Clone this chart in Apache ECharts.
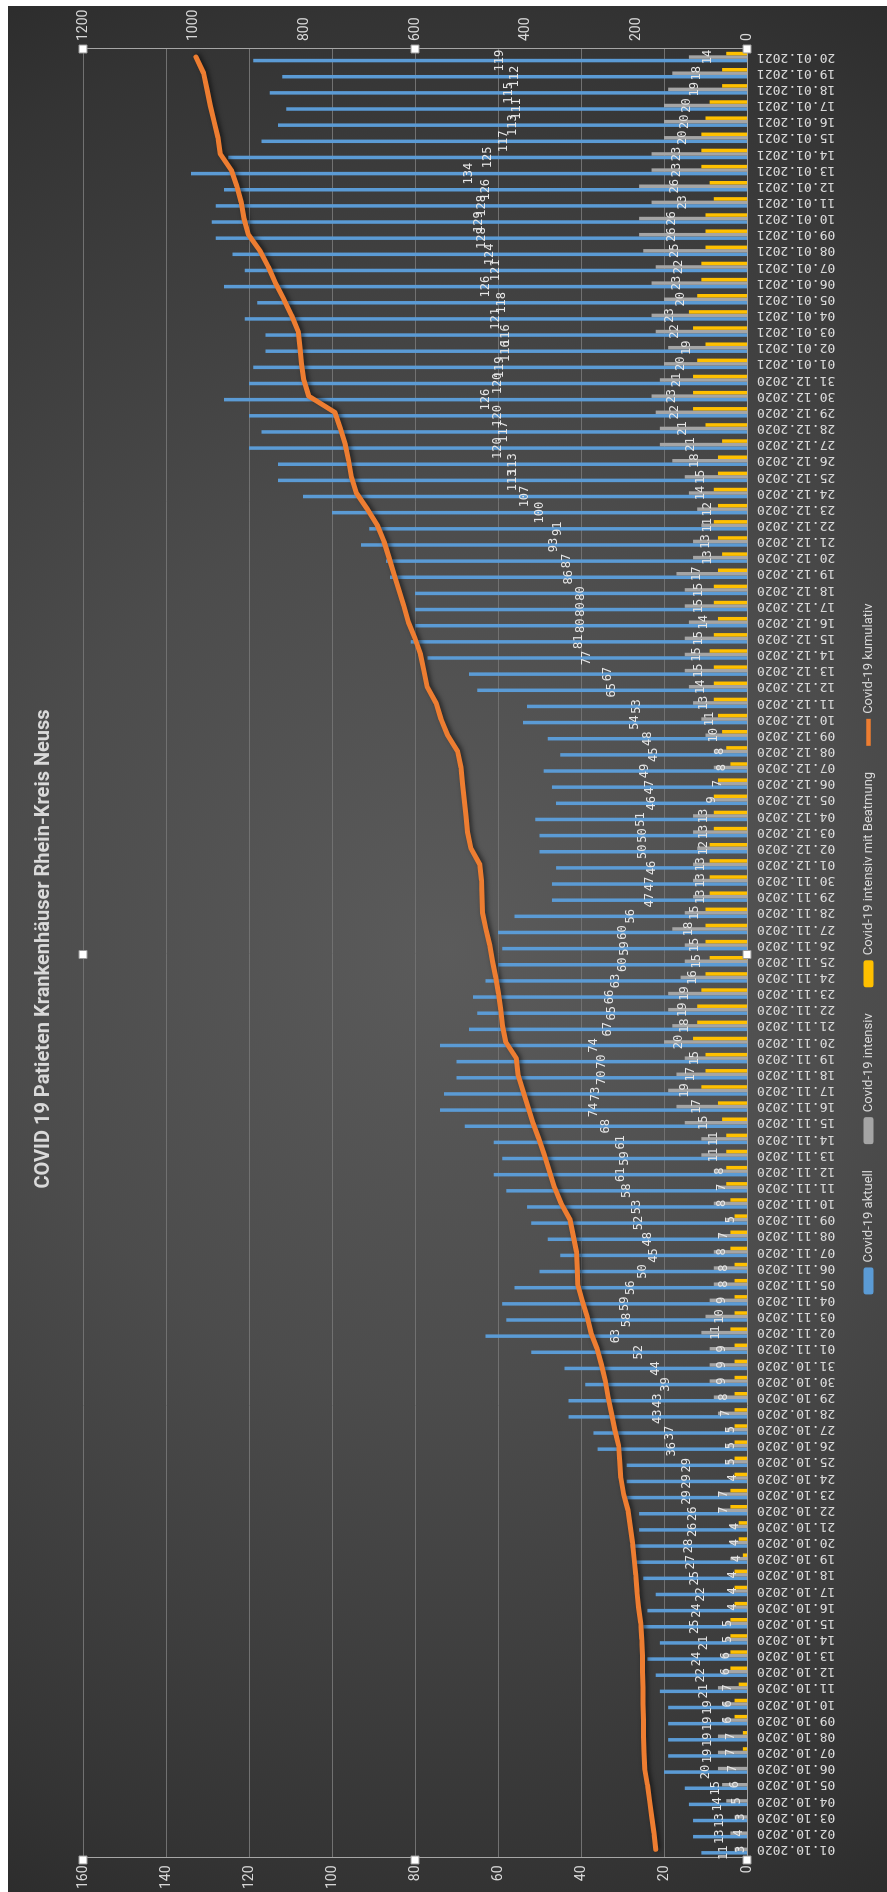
<!DOCTYPE html>
<html lang="de">
<head>
<meta charset="utf-8">
<title>COVID 19 Patieten Krankenhäuser Rhein-Kreis Neuss</title>
<script src="https://cdn.jsdelivr.net/npm/echarts@6/dist/echarts.min.js"></script>
<style>
  html, body { margin: 0; padding: 0; background: #ffffff; overflow: hidden; }
  body { width: 887px; height: 1892px; position: relative; }
  /* the reference is a landscape Excel chart turned on its side */
  #chart {
    position: absolute;
    left: 0;
    top: 0;
    width: 1886px;
    height: 879px;
    transform-origin: 0 0;
    transform: translate(8px, 1892px) rotate(-90deg);
  }
</style>
</head>
<body>
<div id="chart"></div>
<script>
const dates = [
  '01.10.2020', '02.10.2020', '03.10.2020', '04.10.2020', '05.10.2020', '06.10.2020', '07.10.2020', '08.10.2020',
  '09.10.2020', '10.10.2020', '11.10.2020', '12.10.2020', '13.10.2020', '14.10.2020', '15.10.2020', '16.10.2020',
  '17.10.2020', '18.10.2020', '19.10.2020', '20.10.2020', '21.10.2020', '22.10.2020', '23.10.2020', '24.10.2020',
  '25.10.2020', '26.10.2020', '27.10.2020', '28.10.2020', '29.10.2020', '30.10.2020', '31.10.2020',
  '01.11.2020', '02.11.2020', '03.11.2020', '04.11.2020', '05.11.2020', '06.11.2020', '07.11.2020', '08.11.2020',
  '09.11.2020', '10.11.2020', '11.11.2020', '12.11.2020', '13.11.2020', '14.11.2020', '15.11.2020', '16.11.2020',
  '17.11.2020', '18.11.2020', '19.11.2020', '20.11.2020', '21.11.2020', '22.11.2020', '23.11.2020', '24.11.2020',
  '25.11.2020', '26.11.2020', '27.11.2020', '28.11.2020', '29.11.2020', '30.11.2020',
  '01.12.2020', '02.12.2020', '03.12.2020', '04.12.2020', '05.12.2020', '06.12.2020', '07.12.2020', '08.12.2020',
  '09.12.2020', '10.12.2020', '11.12.2020', '12.12.2020', '13.12.2020', '14.12.2020', '15.12.2020', '16.12.2020',
  '17.12.2020', '18.12.2020', '19.12.2020', '20.12.2020', '21.12.2020', '22.12.2020', '23.12.2020', '24.12.2020',
  '25.12.2020', '26.12.2020', '27.12.2020', '28.12.2020', '29.12.2020', '30.12.2020', '31.12.2020',
  '01.01.2021', '02.01.2021', '03.01.2021', '04.01.2021', '05.01.2021', '06.01.2021', '07.01.2021', '08.01.2021',
  '09.01.2021', '10.01.2021', '11.01.2021', '12.01.2021', '13.01.2021', '14.01.2021', '15.01.2021', '16.01.2021',
  '17.01.2021', '18.01.2021', '19.01.2021', '20.01.2021',
]

const aktuell = [
  11, 13, 13, 14, 15, 20, 19, 19, 19, 19, 21, 22, 24, 21, 25, 24, 22, 25, 27, 28, 26, 26, 29, 29, 29, 36, 37, 43, 43, 39, 44,
  52, 63, 58, 59, 56, 50, 45, 48, 52, 53, 58, 61, 59, 61, 68, 74, 73, 70, 70, 74, 67, 65, 66, 63, 60, 59, 60, 56, 47, 47,
  46, 50, 50, 51, 46, 47, 49, 45, 48, 54, 53, 65, 67, 77, 81, 80, 80, 80, 86, 87, 93, 91, 100, 107, 113, 113, 120, 117, 120, 126, 120,
  119, 116, 116, 121, 118, 126, 121, 124, 128, 129, 128, 126, 134, 125, 117, 113, 111, 115, 112, 119,
]

const intensiv = [
  3, 4, 3, 5, 6, 7, 7, 7, 6, 6, 7, 6, 6, 5, 5, 4, 4, 4, 4, 4, 4, 7, 7, 4, 5, 5, 5, 7, 8, 9, 9,
  9, 11, 10, 9, 8, 8, 8, 7, 5, 8, 7, 8, 11, 11, 15, 17, 19, 17, 15, 20, 18, 19, 19, 16, 15, 15, 18, 15, 13, 13,
  13, 12, 13, 13, 9, 7, 8, 8, 10, 11, 13, 14, 15, 15, 15, 14, 15, 15, 17, 13, 13, 11, 12, 14, 15, 18, 21, 21, 22, 23, 21,
  20, 19, 22, 23, 20, 23, 22, 25, 26, 26, 23, 26, 23, 23, 20, 20, 20, 19, 18, 14,
]

const beatmung = [
  0, 0, 0, 0, 0, 0, 1, 1, 3, 3, 2, 4, 4, 4, 4, 3, 3, 3, 1, 2, 2, 4, 4, 3, 3, 3, 3, 3, 3, 3, 3,
  3, 4, 3, 3, 3, 3, 4, 4, 3, 4, 5, 5, 5, 5, 6, 7, 11, 10, 10, 13, 12, 12, 11, 10, 9, 10, 10, 10, 9, 9,
  9, 9, 8, 8, 8, 7, 4, 5, 6, 7, 8, 8, 8, 9, 8, 7, 8, 8, 7, 6, 7, 8, 7, 8, 7, 7, 6, 10, 13, 13, 13,
  12, 10, 13, 14, 12, 11, 11, 10, 10, 10, 8, 9, 11, 11, 11, 10, 9, 6, 6, 5,
]

const kumulativ = [
  165, 168, 172, 176, 180, 185, 186, 187, 187, 188, 188, 189, 189, 190, 192, 196, 199, 201, 204, 207, 211, 215, 223, 228, 230, 232, 239, 245, 251, 256, 263,
  271, 282, 289, 298, 306, 307, 308, 314, 320, 336, 348, 357, 366, 376, 387, 396, 405, 414, 417, 436, 442, 445, 449, 454, 460, 465, 472, 478, 479, 480,
  483, 499, 505, 508, 511, 514, 517, 523, 541, 553, 562, 578, 584, 590, 600, 612, 620, 629, 638, 647, 656, 668, 686, 706, 715, 720, 726, 735, 745, 792, 801,
  805, 808, 811, 823, 837, 852, 865, 880, 901, 909, 914, 922, 932, 952, 956, 963, 970, 976, 982, 996,
]

const seriesNames = ['Covid-19 aktuell', 'Covid-19 intensiv', 'Covid-19 intensiv mit Beatmung', 'Covid-19 kumulativ']

const narrow = "'Liberation Sans Narrow', 'Roboto', sans-serif"
const mono = "'DejaVu Sans Mono', monospace"
const textColor = '#d9d9d9'

const chartDom = document.getElementById('chart')
const chart = echarts.init(chartDom, null, { renderer: 'canvas' })

const width = chartDom.clientWidth
const height = chartDom.clientHeight
const grid = { left: 32, right: 43, top: 75, bottom: 140 }
const pxPerPatient = (height - grid.top - grid.bottom) / 160

// Excel puts the intensiv label in the middle of the part above the Beatmung bar
const intensivData = intensiv.map((value, i) => ({
  value,
  label: { offset: [0, -(beatmung[i] * pxPerPatient) / 2] },
}))

// white selection handles round the plot area, as in the screenshot
const x0 = grid.left
const x1 = width - grid.right
const y0 = grid.top
const y1 = height - grid.bottom
const handles = [
  [x0, y0], [(x0 + x1) / 2, y0], [x1, y0],
  [x0, (y0 + y1) / 2], [x1, (y0 + y1) / 2],
  [x0, y1], [(x0 + x1) / 2, y1], [x1, y1],
].map(([x, y]) => ({
  type: 'rect',
  shape: { x: x - 4, y: y - 4, width: 8, height: 8 },
  style: { fill: '#ffffff', stroke: '#9a9a9a', lineWidth: 1 },
  z: 100,
}))

chart.setOption({
  animation: false,
  backgroundColor: new echarts.graphic.RadialGradient(0.5, 0.5, 1.2, [
    { offset: 0, color: '#5b5b5b' },
    { offset: 0.42, color: '#4c4c4c' },
    { offset: 0.88, color: '#343434' },
    { offset: 1, color: '#2c2c2c' },
  ]),
  title: {
    text: 'COVID 19 Patieten Krankenhäuser Rhein-Kreis Neuss',
    left: 'center',
    top: 21,
    textStyle: { color: textColor, fontFamily: narrow, fontSize: 20, fontWeight: 'bold' },
  },
  legend: {
    data: [
      seriesNames[0],
      seriesNames[1],
      seriesNames[2],
      { name: seriesNames[3], icon: 'path://M0,0h30v5h-30z' },
    ],
    left: 'center',
    top: 849,
    itemWidth: 27,
    itemHeight: 10,
    itemGap: 26,
    textStyle: { color: textColor, fontFamily: narrow, fontSize: 13 },
  },
  grid: { ...grid, containLabel: false },
  xAxis: {
    type: 'category',
    data: dates,
    axisLine: { lineStyle: { color: '#a6a6a6' } },
    axisTick: { show: false },
    axisLabel: {
      rotate: 90,
      interval: 0,
      margin: 10,
      color: textColor,
      fontFamily: mono,
      fontSize: 13,
    },
  },
  yAxis: [
    {
      type: 'value',
      min: 0,
      max: 160,
      interval: 20,
      axisLine: { show: true, lineStyle: { color: '#a6a6a6' } },
      axisTick: { show: false },
      splitLine: { lineStyle: { color: '#717171' } },
      axisLabel: { color: textColor, fontFamily: narrow, fontSize: 14 },
    },
    {
      type: 'value',
      min: 0,
      max: 1200,
      interval: 200,
      axisLine: { show: true, lineStyle: { color: '#a6a6a6' } },
      axisTick: { show: false },
      splitLine: { show: false },
      axisLabel: {
        color: textColor,
        fontFamily: narrow,
        fontSize: 14,
        formatter: (value) => String(value),
      },
    },
  ],
  graphic: handles,
  series: [
    {
      name: seriesNames[0],
      type: 'bar',
      data: aktuell,
      barWidth: 3.5,
      barGap: '0%',
      itemStyle: { color: '#5b9bd5' },
      label: {
        show: true,
        position: 'inside',
        color: '#e6e6e6',
        fontFamily: mono,
        fontSize: 12,
      },
    },
    {
      name: seriesNames[1],
      type: 'bar',
      data: intensivData,
      barWidth: 3.5,
      barGap: '0%',
      itemStyle: { color: '#a5a5a5' },
      label: {
        show: true,
        position: 'inside',
        color: '#e6e6e6',
        fontFamily: mono,
        fontSize: 12,
      },
    },
    {
      name: seriesNames[2],
      type: 'bar',
      data: beatmung,
      barWidth: 3.5,
      barGap: '0%',
      itemStyle: { color: '#ffc000' },
    },
    {
      name: seriesNames[3],
      type: 'line',
      yAxisIndex: 1,
      data: kumulativ,
      symbol: 'none',
      z: 5,
      lineStyle: {
        color: '#ed7d31',
        width: 5,
        cap: 'round',
        join: 'round',
        shadowColor: 'rgba(0, 0, 0, 0.6)',
        shadowBlur: 5,
        shadowOffsetX: 1,
        shadowOffsetY: 2,
      },
      itemStyle: { color: '#ed7d31' },
    },
  ],
})
</script>
</body>
</html>
